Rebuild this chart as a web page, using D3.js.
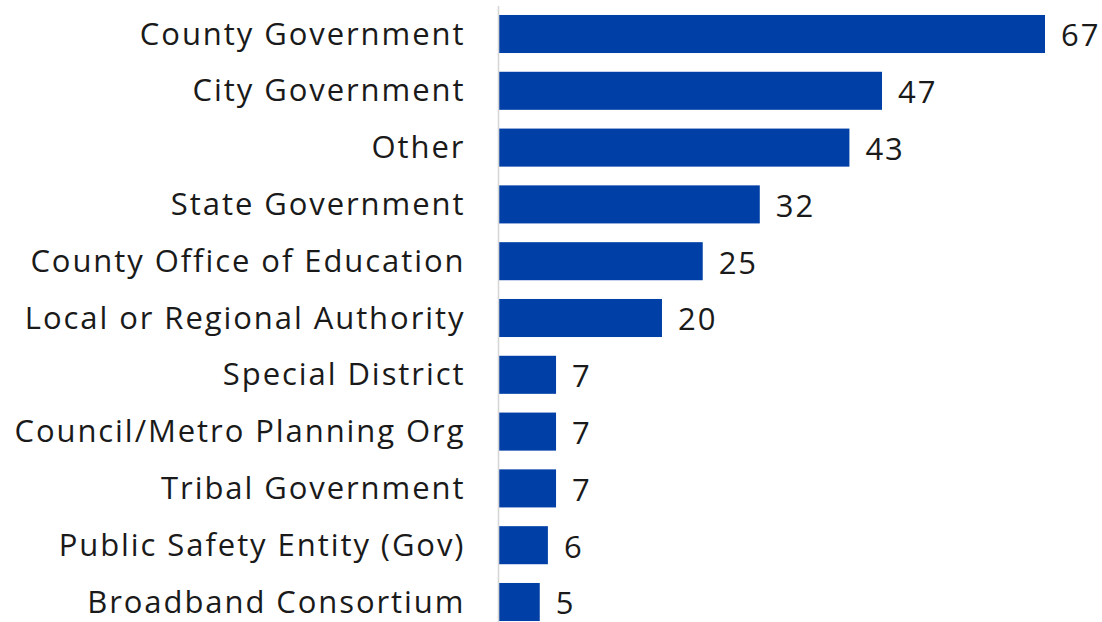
<!DOCTYPE html>
<html>
<head>
<meta charset="utf-8">
<script src="https://cdn.jsdelivr.net/npm/d3@7"></script>
<style>
  html, body { margin: 0; padding: 0; background: #ffffff; }
  svg { display: block; }
  text { font-family: "Open Sans", "Noto Sans", sans-serif; fill: #1a1a1a; }
</style>
</head>
<body>
<svg id="chart" width="1102" height="622"></svg>
<script>
// Organisation types and their counts, largest first
const categories = [
  "County Government",
  "City Government",
  "Other",
  "State Government",
  "County Office of Education",
  "Local or Regional Authority",
  "Special District",
  "Council/Metro Planning Org",
  "Tribal Government",
  "Public Safety Entity (Gov)",
  "Broadband Consortium"
];
const counts = [67, 47, 43, 32, 25, 20, 7, 7, 7, 6, 5];

const W = 1102, H = 622;
const axisX = 499;
const barColor = "#0040a6";
const fontSize = 31;

const svg = d3.select("#chart");

const x = d3.scaleLinear()
  .domain([0, d3.max(counts)])
  .range([axisX, 1045]);

const y = d3.scaleBand()
  .domain(categories)
  .range([5.6, 630.4])
  .paddingInner(0.33)
  .paddingOuter(0.165);

const rows = categories.map((c, i) => ({ name: c, value: counts[i] }));

// Bars
svg.append("g")
  .selectAll("rect")
  .data(rows)
  .join("rect")
  .attr("x", x(0))
  .attr("y", d => y(d.name))
  .attr("width", d => x(d.value) - x(0))
  .attr("height", y.bandwidth())
  .attr("fill", barColor);

// Category axis: a plain vertical rule with labels to its left
const axis = d3.axisLeft(y).tickSize(0).tickPadding(35);
const gAxis = svg.append("g")
  .attr("transform", `translate(${axisX - 0.5},0)`)
  .call(axis);
gAxis.select(".domain").remove();
gAxis.append("line")
  .attr("x1", 0).attr("x2", 0)
  .attr("y1", 6).attr("y2", H)
  .attr("stroke", "#d6d6d6")
  .attr("stroke-width", 1.6);
gAxis.selectAll(".tick text")
  .attr("font-size", fontSize)
  .attr("font-family", '"Open Sans", "Noto Sans", sans-serif')
  .attr("fill", "#1a1a1a")
  .attr("dy", "0.34em");

// Widen the category labels with a little tracking so the longest one
// spans the space left of the rule
const labels = gAxis.selectAll(".tick text");
const longest = labels.nodes().reduce((a, n) =>
  n.getComputedTextLength() > a.getComputedTextLength() ? n : a);
const targetWidth = 451;
const nChars = longest.textContent.length;
const tracking = Math.max(0, (targetWidth - longest.getComputedTextLength()) / nChars);
labels.attr("letter-spacing", tracking.toFixed(2) + "px")
  .attr("dx", tracking.toFixed(2));

// Value labels at the end of each bar
svg.append("g")
  .selectAll("text")
  .data(rows)
  .join("text")
  .attr("x", d => x(d.value) + 16)
  .attr("y", d => y(d.name) + y.bandwidth() / 2)
  .attr("dy", "0.4em")
  .attr("font-size", fontSize)
  .attr("letter-spacing", tracking.toFixed(2) + "px")
  .text(d => d.value);
</script>
</body>
</html>
